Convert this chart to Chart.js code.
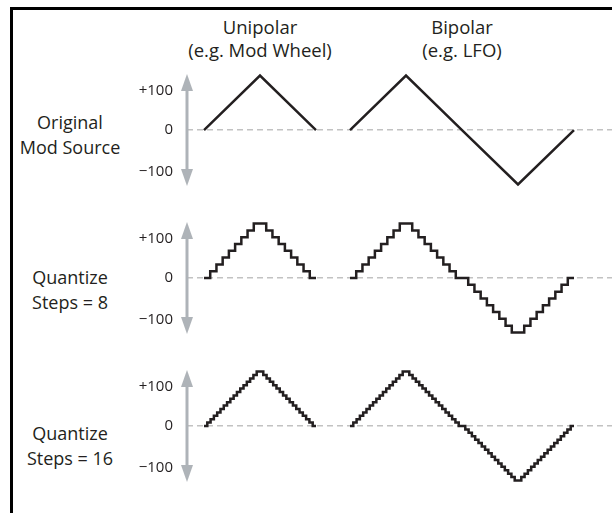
<!DOCTYPE html>
<html>
<head>
<meta charset="utf-8">
<script src="https://cdn.jsdelivr.net/npm/chart.js@4/dist/chart.umd.min.js"></script>
<style>
    html, body { margin: 0; padding: 0; background: #fff; }
    #wrap { position: relative; width: 612px; height: 513px; overflow: hidden; font-family: 'Open Sans', sans-serif; color: #231f20; }
    #frame { position: absolute; left: 10px; top: 7px; right: 0; bottom: 0; border-left: 3px solid #000; border-top: 3px solid #000; }
    canvas { position: absolute; left: 0; top: 0; }
    .lbl { position: absolute; text-align: center; white-space: nowrap; }
    .head { font-size: 18.5px; line-height: 23px; top: 15px; width: 220px; }
    .row { font-size: 18px; line-height: 25px; left: 0; width: 140px; }
</style>
</head>
<body>
<div id="wrap">
    <div id="frame"></div>
    <div class="lbl head" style="left:150px">Unipolar<br>(e.g. Mod Wheel)</div>
    <div class="lbl head" style="left:352px">Bipolar<br>(e.g. LFO)</div>
    <div class="lbl row" style="top:110px">Original<br>Mod Source</div>
    <div class="lbl row" style="top:265px">Quantize<br>Steps = 8</div>
    <div class="lbl row" style="top:421px">Quantize<br>Steps = 16</div>
    <canvas id="modChart" width="612" height="513"></canvas>
</div>
<script>
    // original mod source: triangle corners, one per quarter cycle
    const origUnipolar = [0, 100, 0];
    const origBipolar = [0, 100, 0, -100, 0];

    // quantize steps = 8: held value per sample
    const q8Unipolar = [0, 12.5, 25, 37.5, 50, 62.5, 75, 87.5, 100, 100, 87.5, 75, 62.5, 50, 37.5, 25, 12.5, 0, 0];
    const q8Bipolar = [0, 12.5, 25, 37.5, 50, 62.5, 75, 87.5, 100, 100, 87.5, 75, 62.5, 50, 37.5, 25, 12.5, 0,
        0, -12.5, -25, -37.5, -50, -62.5, -75, -87.5, -100, -100, -87.5, -75, -62.5, -50, -37.5, -25, -12.5, 0, 0];

    // quantize steps = 16
    const q16Unipolar = [0, 6.25, 12.5, 18.75, 25, 31.25, 37.5, 43.75, 50, 56.25, 62.5, 68.75, 75, 81.25, 87.5, 93.75,
        100, 100, 93.75, 87.5, 81.25, 75, 68.75, 62.5, 56.25, 50, 43.75, 37.5, 31.25, 25, 18.75, 12.5, 6.25, 0, 0];
    const q16Bipolar = [0, 6.25, 12.5, 18.75, 25, 31.25, 37.5, 43.75, 50, 56.25, 62.5, 68.75, 75, 81.25, 87.5, 93.75,
        100, 100, 93.75, 87.5, 81.25, 75, 68.75, 62.5, 56.25, 50, 43.75, 37.5, 31.25, 25, 18.75, 12.5, 6.25,
        0, 0, -6.25, -12.5, -18.75, -25, -31.25, -37.5, -43.75, -50, -56.25, -62.5, -68.75, -75, -81.25, -87.5, -93.75,
        -100, -100, -93.75, -87.5, -81.25, -75, -68.75, -62.5, -56.25, -50, -43.75, -37.5, -31.25, -25, -18.75, -12.5, -6.25, 0, 0];

    const tickLabels = ['+100', '0', '\u2212100'];

    // layout (pixels / placement only)
    const plotLeft = 187, plotRight = 612, uniStart = 204, biStart = 350, uniSpan = 112;
    const zeroFromTop = 88, rowHeight = 155, pxPerUnit = 0.57;
    const labelSpots = [72, 0, -77];   // where the tick labels sit next to the arrow
    const arrowReach = 103;
    const ink = '#231f20';

    const rows = [
        {uni: origUnipolar, bi: origBipolar, stepped: false},
        {uni: q8Unipolar, bi: q8Bipolar, stepped: true},
        {uni: q16Unipolar, bi: q16Bipolar, stepped: true}
    ];

    let scales = {};
    let datasets = [];
    rows.forEach(function (row, r) {
        let n = r + 1;
        let px = uniSpan / (row.uni.length - 1);
        let xmin = -(uniStart - plotLeft) / px;
        let biOffset = (biStart - uniStart) / px;
        scales['x' + n] = {type: 'linear', display: false, min: xmin, max: xmin + (plotRight - plotLeft) / px};
        scales['y' + n] = {
            type: 'linear',
            position: 'left',
            stack: 'rows',
            stackWeight: 1,
            weight: 10 - n,
            min: -(rowHeight - zeroFromTop) / pxPerUnit,
            max: zeroFromTop / pxPerUnit,
            afterFit: function (s) { s.width = 50; },
            afterBuildTicks: function (s) { s.ticks = labelSpots.map(v => ({value: v})); },
            ticks: {
                autoSkip: false,
                padding: 14,
                color: ink,
                font: {family: 'Open Sans', size: 15},
                callback: (v, i) => tickLabels[i]
            },
            grid: {
                drawTicks: false,
                lineWidth: 1.5,
                color: ctx => (ctx.tick && ctx.tick.value === 0) ? '#c2c2c2' : 'rgba(0,0,0,0)'
            },
            border: {display: false, dash: [6, 4]}
        };
        [[row.uni, 0], [row.bi, biOffset]].forEach(function (pair) {
            datasets.push({
                data: pair[0].map((v, i) => ({x: pair[1] + i, y: v})),
                xAxisID: 'x' + n,
                yAxisID: 'y' + n,
                stepped: row.stepped,
                borderColor: ink,
                borderWidth: 2.5,
                borderJoinStyle: 'miter',
                pointRadius: 0,
                fill: false,
                tension: 0
            });
        });
    });

    // grey double-headed arrows along each y axis
    const arrowPlugin = {
        id: 'axisArrows',
        afterDraw(chart) {
            let ctx = chart.ctx;
            let x = chart.chartArea.left;
            ctx.save();
            ctx.fillStyle = '#aeb3b8';
            ctx.strokeStyle = '#aeb3b8';
            ['y1', 'y2', 'y3'].forEach(function (id) {
                let s = chart.scales[id];
                let top = s.getPixelForValue(arrowReach);
                let bot = s.getPixelForValue(-arrowReach);
                ctx.lineWidth = 3;
                ctx.beginPath();
                ctx.moveTo(x, top + 10);
                ctx.lineTo(x, bot - 10);
                ctx.stroke();
                ctx.beginPath();
                ctx.moveTo(x, top);
                ctx.lineTo(x - 6, top + 17);
                ctx.lineTo(x + 6, top + 17);
                ctx.closePath();
                ctx.fill();
                ctx.beginPath();
                ctx.moveTo(x, bot);
                ctx.lineTo(x - 6, bot - 17);
                ctx.lineTo(x + 6, bot - 17);
                ctx.closePath();
                ctx.fill();
            });
            ctx.restore();
        }
    };

    document.addEventListener('DOMContentLoaded', function () {
        let chartCtx = document.getElementById('modChart').getContext('2d');
        new Chart(chartCtx, {
            type: 'line',
            data: {datasets: datasets},
            options: {
                responsive: false,
                animation: false,
                devicePixelRatio: 1,
                events: [],
                layout: {padding: {left: plotLeft - 50, right: 0, top: 46, bottom: 513 - 46 - 3 * rowHeight}},
                plugins: {legend: {display: false}, tooltip: {enabled: false}},
                scales: scales
            },
            plugins: [arrowPlugin]
        });
    });
</script>
</body>
</html>
